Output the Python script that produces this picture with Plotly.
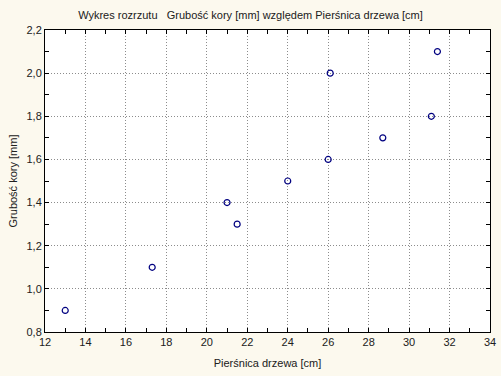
import plotly.graph_objects as go

piersnica = [13.0, 17.3, 21.0, 21.5, 24.0, 26.0, 26.1, 28.7, 31.1, 31.4]
grubosc = [0.9, 1.1, 1.4, 1.3, 1.5, 1.6, 2.0, 1.7, 1.8, 2.1]

title_text = "Wykres rozrzutu   Grubość kory [mm] względem Pierśnica drzewa [cm]"
x_title = "Pierśnica drzewa [cm]"
y_title = "Grubość kory [mm]"

font = "Liberation Sans, Arial, sans-serif"

fig = go.Figure()
fig.add_trace(go.Scatter(
    x=piersnica, y=grubosc, mode="markers",
    marker=dict(symbol="circle-open", size=6, color="#000080", line=dict(width=1.2, color="#000080")),
    showlegend=False,
))

axis_common = dict(
    showline=True, linecolor="black", linewidth=1, mirror="ticks",
    ticks="inside", ticklen=4, tickcolor="black",
    showgrid=True, gridcolor="#8C8C8C", griddash="1px,2px", gridwidth=1,
    zeroline=False, automargin=False,
    tickfont=dict(family=font, size=11, color="#202020"),
    title_font=dict(family=font, size=11, color="#202020"),
)

fig.update_xaxes(
    range=[12, 34], dtick=2, tick0=12,
    minor=dict(ticks="inside", ticklen=4, dtick=1, tickcolor="black", showgrid=False),
    title_text=x_title, title_standoff=12,
    **axis_common,
)
fig.update_yaxes(
    range=[0.8, 2.2], dtick=0.2, tick0=0.8, tickformat=".1f",
    minor=dict(ticks="inside", ticklen=4, dtick=0.1, tickcolor="black", showgrid=False),
    title_text=y_title, title_standoff=6,
    **axis_common,
)

fig.update_layout(
    width=501, height=376,
    separators=", ",
    paper_bgcolor="#FCF9EE",
    plot_bgcolor="white",
    margin=dict(l=45, r=11, t=30, b=44),
    title=dict(text=title_text, x=0.5, xanchor="center", y=1 - 15/376, yanchor="middle",
               font=dict(family=font, size=11, color="#202020")),
    font=dict(family=font, size=11),
)

fig.write_html(
    "out.html",
    config={"displayModeBar": False},
    post_script="document.body.style.margin='0';document.body.style.overflow='hidden';document.documentElement.style.overflow='hidden';",
)
